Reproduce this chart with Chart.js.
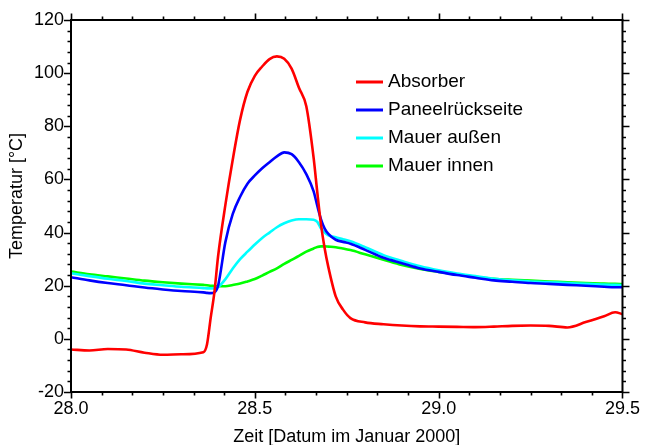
<!DOCTYPE html>
<html><head><meta charset="utf-8">
<script src="https://cdn.jsdelivr.net/npm/chart.js@4.4.0/dist/chart.umd.min.js"></script>
<style>html,body{margin:0;padding:0;background:#fff;}#wrap{width:646px;height:445px;}</style>
</head><body><div id="wrap"><canvas id="c" width="646" height="445"></canvas></div>
<script>
// Time axis (days, January 2000)
const times = [28.00, 28.05, 28.10, 28.15, 28.20, 28.25, 28.30, 28.36, 28.37, 28.38, 28.39, 28.40,
  28.42, 28.44, 28.46, 28.48, 28.50, 28.52, 28.54, 28.56, 28.58, 28.60, 28.62, 28.64,
  28.66, 28.67, 28.68, 28.69, 28.70, 28.72, 28.74, 28.76, 28.80, 28.85, 28.90, 28.95,
  29.00, 29.05, 29.10, 29.15, 29.20, 29.25, 29.30, 29.35, 29.40, 29.45, 29.48, 29.50];
const absorber = [-4.0, -4.4, -3.8, -4.0, -5.2, -6.0, -5.8, -5.0, -2.0, 8.0, 17.5, 31.0,
  50.5, 67.5, 82.5, 93.0, 99.0, 102.5, 105.3, 106.3, 105.4, 101.7, 94.5, 87.5,
  68.0, 55.0, 43.0, 34.0, 27.0, 16.0, 11.0, 7.8, 6.2, 5.5, 5.0, 4.7,
  4.6, 4.5, 4.4, 4.6, 4.9, 5.0, 4.9, 4.3, 6.3, 8.5, 10.0, 9.3];
const paneel = [23.2, 22.0, 21.0, 20.2, 19.3, 18.6, 18.0, 17.5, 17.3, 17.2, 17.5, 20.0,
  36.5, 47.0, 53.5, 58.4, 61.5, 64.2, 66.5, 68.7, 70.2, 69.5, 66.5, 62.0,
  55.5, 50.0, 45.0, 41.5, 39.5, 37.3, 36.5, 35.8, 33.5, 30.5, 28.5, 26.5,
  25.2, 24.0, 23.0, 22.0, 21.5, 21.0, 20.7, 20.3, 20.0, 19.6, 19.4, 19.4];
const mauerAussen = [24.7, 23.6, 22.6, 21.8, 20.8, 20.2, 19.6, 19.1, 19.0, 19.0, 19.0, 19.5,
  22.5, 26.5, 30.0, 32.8, 35.5, 38.0, 40.0, 42.0, 43.5, 44.5, 45.0, 45.0,
  44.8, 44.0, 41.5, 40.0, 39.0, 38.2, 37.5, 36.7, 34.5, 31.5, 29.3, 27.3,
  25.8, 24.6, 23.6, 22.6, 22.0, 21.6, 21.3, 21.0, 20.7, 20.4, 20.3, 20.2];
const mauerInnen = [25.3, 24.3, 23.5, 22.7, 21.9, 21.3, 20.8, 20.3, 20.2, 20.0, 19.9, 19.8,
  19.8, 20.3, 20.8, 21.6, 22.5, 23.8, 25.2, 26.5, 28.2, 29.7, 31.2, 32.8,
  34.0, 34.6, 34.8, 34.8, 34.7, 34.5, 34.0, 33.4, 31.8, 29.8, 27.8, 26.3,
  25.2, 24.2, 23.4, 22.6, 22.2, 21.9, 21.6, 21.3, 21.0, 20.8, 20.7, 20.6];
const seriesLabels = ['Absorber', 'Paneelrückseite', 'Mauer außen', 'Mauer innen'];
const xTickLabels = [28.0, 28.5, 29.0, 29.5];
const yTickLabels = [-20, 0, 20, 40, 60, 80, 100, 120];
const xMinorPerMajor = 6;   // 2-hour minor ticks
const yMinorPerMajor = 5;

const FONT = '"Liberation Sans", Arial, sans-serif';
const colors = ['#ff0000', '#0000ff', '#00ffff', '#00ff00'];
const seriesValues = [absorber, paneel, mauerAussen, mauerInnen];

const datasets = seriesValues.map((vals, i) => ({
  label: seriesLabels[i],
  data: times.map((t, k) => ({x: t, y: vals[k]})),
  borderColor: colors[i],
  backgroundColor: colors[i],
  borderWidth: 2.6,
  pointRadius: 0,
  cubicInterpolationMode: 'monotone',
  fill: false
}));

function minorValues(majors, n) {
  const out = [];
  for (let i = 0; i < majors.length - 1; i++) {
    const a = majors[i], b = majors[i + 1];
    for (let k = 0; k < n; k++) out.push({v: a + (b - a) * k / n, major: k === 0});
  }
  out.push({v: majors[majors.length - 1], major: true});
  return out;
}

const framePlugin = {
  id: 'frameTicks',
  afterDatasetsDraw(chart) {
    const {ctx, chartArea: {left, right, top, bottom}, scales: {x, y}} = chart;
    ctx.save();
    ctx.strokeStyle = '#000';
    ctx.lineWidth = 1.6;
    ctx.beginPath();
    minorValues(xTickLabels, xMinorPerMajor).forEach(t => {
      const px = Math.round(x.getPixelForValue(t.v)) + 0.5;
      const len = t.major ? 6.5 : 3.5;
      ctx.moveTo(px, bottom); ctx.lineTo(px, bottom + len);
      ctx.moveTo(px, top); ctx.lineTo(px, top - len);
    });
    minorValues(yTickLabels, yMinorPerMajor).forEach(t => {
      const py = Math.round(y.getPixelForValue(t.v)) + 0.5;
      const len = t.major ? 7 : 3.5;
      ctx.moveTo(left, py); ctx.lineTo(left - len, py);
      ctx.moveTo(right, py); ctx.lineTo(right + len, py);
    });
    ctx.stroke();
    ctx.lineWidth = 2;
    ctx.strokeRect(left, top, right - left, bottom - top);
    ctx.restore();
  }
};

const legendPlugin = {
  id: 'innerLegend',
  afterDatasetsDraw(chart) {
    const {ctx, chartArea} = chart;
    const x0 = chartArea.left + 285, y0 = chartArea.top + 62;
    ctx.save();
    ctx.font = '19px ' + FONT;
    ctx.textBaseline = 'middle';
    ctx.textAlign = 'left';
    ctx.fillStyle = '#000';
    chart.data.datasets.forEach((ds, i) => {
      const yy = y0 + i * 28;
      ctx.strokeStyle = ds.borderColor;
      ctx.lineWidth = 3;
      ctx.beginPath(); ctx.moveTo(x0, yy); ctx.lineTo(x0 + 27, yy); ctx.stroke();
      ctx.fillText(ds.label, x0 + 32, yy);
    });
    ctx.restore();
  }
};

new Chart(document.getElementById('c'), {
  type: 'line',
  data: {datasets},
  plugins: [framePlugin, legendPlugin],
  options: {
    responsive: false,
    devicePixelRatio: 1,
    animation: false,
    layout: {padding: {top: 20, right: 18, left: 0, bottom: 0}},
    plugins: {legend: {display: false}, tooltip: {enabled: false}},
    scales: {
      x: {
        type: 'linear', position: 'bottom', min: 28, max: 29.5,
        grid: {display: false, drawTicks: false},
        border: {display: false},
        afterBuildTicks: s => { s.ticks = xTickLabels.map(v => ({value: v})); },
        afterFit: s => { s.height = 53; },
        ticks: {
          color: '#000', font: {family: FONT, size: 18}, padding: 6,
          maxRotation: 0, autoSkip: false,
          callback: v => Number(v).toFixed(1)
        },
        title: {display: true, text: 'Zeit [Datum im Januar 2000]', color: '#000',
          font: {family: FONT, size: 18, lineHeight: 0.9}, padding: {top: 0, bottom: 0}}
      },
      y: {
        type: 'linear', position: 'left', min: -20, max: 120,
        grid: {display: false, drawTicks: false},
        border: {display: false},
        afterBuildTicks: s => { s.ticks = yTickLabels.map(v => ({value: v})); },
        afterFit: s => { s.width = 71; },
        ticks: {color: '#000', font: {family: FONT, size: 18}, padding: 7,
          callback: v => String(v)},
        title: {display: true, text: '    Temperatur [°C]', color: '#000',
          font: {family: FONT, size: 18}, padding: {top: 6, bottom: 0}}
      }
    }
  }
});
</script>
</body></html>
